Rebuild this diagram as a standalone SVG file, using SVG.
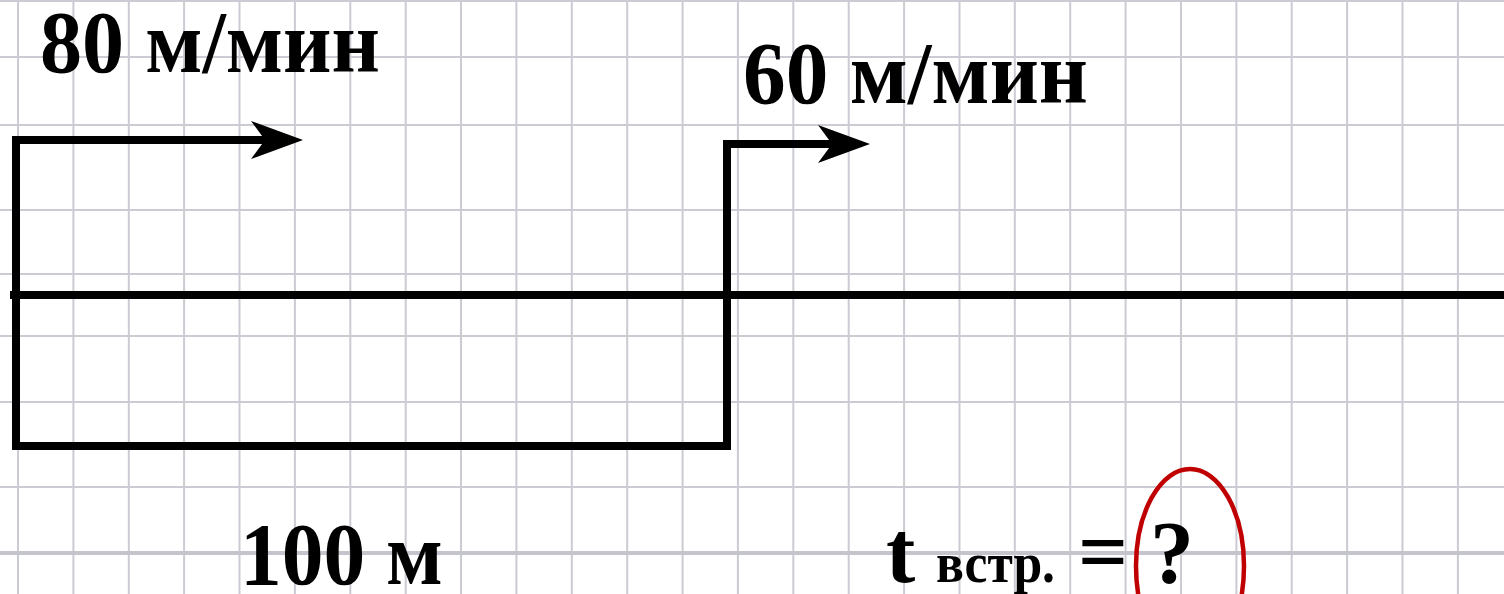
<svg xmlns="http://www.w3.org/2000/svg" width="1504" height="594" viewBox="0 0 1504 594">
<style>
.grid{fill:none;stroke:#cbcbd3;stroke-width:2}
.gridb{fill:none;stroke:#c4c4cc;stroke-width:4}
.ln{fill:none;stroke:#000;stroke-width:8;stroke-linejoin:miter;stroke-linecap:square}
.t{font-family:"Liberation Serif","Times New Roman",serif;font-weight:bold;fill:#000}
</style>
<defs>
<marker id="ah" viewBox="0 0 52 38" refX="14" refY="19" markerWidth="52" markerHeight="38" markerUnits="userSpaceOnUse" orient="auto">
<path d="M0,0 L52,19 L0,38 L14,19 Z" fill="#000"/>
</marker>
</defs>
<rect width="1504" height="594" fill="#fff"/>
<g id="grid">
<path class="grid" d="M18,0V594 M73.4,0V594 M128.8,0V594 M184.1,0V594 M239.5,0V594 M294.9,0V594 M350.3,0V594 M405.7,0V594 M461,0V594 M516.4,0V594 M571.8,0V594 M627.2,0V594 M682.6,0V594 M737.9,0V594 M793.3,0V594 M848.7,0V594 M904.1,0V594 M959.5,0V594 M1014.8,0V594 M1070.2,0V594 M1125.6,0V594 M1181,0V594 M1236.4,0V594 M1291.7,0V594 M1347.1,0V594 M1402.5,0V594 M1457.9,0V594 M0,1H1504 M0,57H1504 M0,125H1504 M0,210H1504 M0,274H1504 M0,336H1504 M0,402H1504 M0,487H1504"/>
<path class="gridb" d="M0,553H1504"/>
</g>
<g id="connectors">
<path class="ln" d="M14,295H1504"/>
<path class="ln" d="M16,291V140H265" marker-end="url(#ah)"/>
<path class="ln" d="M16,299V446H727V144H832" marker-end="url(#ah)"/>
</g>
<g id="label-80">
<text class="t" x="40" y="72" font-size="88" textLength="340" lengthAdjust="spacingAndGlyphs">80 м/мин</text>
</g>
<g id="label-60">
<text class="t" x="743" y="103" font-size="88" textLength="345" lengthAdjust="spacingAndGlyphs">60 м/мин</text>
</g>
<g id="label-100">
<text class="t" x="240" y="584" font-size="88" textLength="203" lengthAdjust="spacingAndGlyphs">100 м</text>
</g>
<g id="label-t">
<text class="t" x="886" y="582" font-size="88">t<tspan x="936" font-size="56" textLength="119" lengthAdjust="spacingAndGlyphs">встр.</tspan><tspan x="1078">=</tspan><tspan x="1150">?</tspan></text>
</g>
<g id="circle-q">
<ellipse cx="1190" cy="566" rx="54" ry="97" fill="none" stroke="#c00000" stroke-width="4.5"/>
</g>
</svg>
